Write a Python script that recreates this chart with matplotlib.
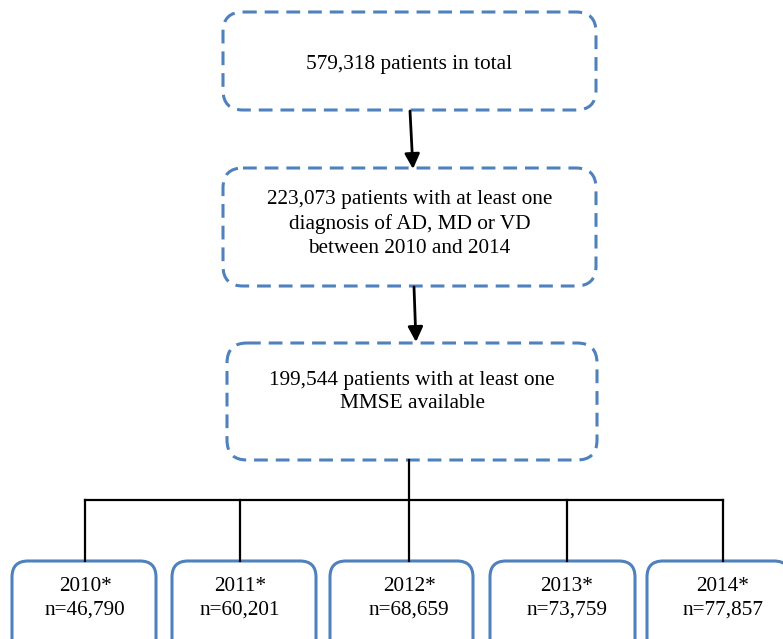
import matplotlib
matplotlib.use("Agg")
import matplotlib.pyplot as plt
from matplotlib.patches import FancyBboxPatch

# flowchart content
stage_texts = [
    "579,318 patients in total",
    "223,073 patients with at least one\ndiagnosis of AD, MD or VD\nbetween 2010 and 2014",
    "199,544 patients with at least one\nMMSE available",
]
years = ["2010", "2011", "2012", "2013", "2014"]
year_counts = ["46,790", "60,201", "68,659", "73,759", "77,857"]

BLUE = "#4f81bd"
W, H = 783, 639

fig = plt.figure(figsize=(W / 100, H / 100), dpi=100)
ax = fig.add_axes([0, 0, 1, 1])
ax.set_xlim(0, W)
ax.set_ylim(H, 0)
ax.axis("off")

plt.rcParams["font.family"] = ["Liberation Serif", "DejaVu Serif"]
fs = 15.3

# stage boxes (x0, y0, x1, y1) and text centre
stage_boxes = [(223, 12, 596, 110), (223, 168, 596, 286), (227, 343, 597, 460)]
text_y = [64, 224, 392]

for (x0, y0, x1, y1), txt, ty in zip(stage_boxes, stage_texts, text_y):
    box = FancyBboxPatch((x0, y0), x1 - x0, y1 - y0,
                         boxstyle="round,pad=0,rounding_size=20",
                         fc="white", ec=BLUE, lw=2.2,
                         linestyle=(0, (4.5, 2.6)))
    ax.add_patch(box)
    ax.text((x0 + x1) / 2, ty, txt, ha="center", va="center",
            fontsize=fs, linespacing=1.33)

# arrows between stages
arrows = [((410, 111), (413, 169)), ((414, 287), (416, 342))]
for (xa, ya), (xb, yb) in arrows:
    ax.annotate("", xy=(xb, yb), xytext=(xa, ya),
                arrowprops=dict(arrowstyle="-|>,head_length=0.9,head_width=0.45",
                                color="black", lw=2, shrinkA=0, shrinkB=0))

# tree connector
drops = [85, 240, 409, 567, 723]
ax.plot([409, 409], [460, 500], color="black", lw=1.6)
ax.plot([drops[0], drops[-1]], [500, 500], color="black", lw=1.6)
for x in drops:
    ax.plot([x, x], [500, 561], color="black", lw=1.6)

# year boxes
year_boxes = [(12, 156), (172, 316), (330, 473), (490, 635), (647, 790)]
for (x0, x1), yr, n, cx in zip(year_boxes, years, year_counts, drops):
    box = FancyBboxPatch((x0, 561), x1 - x0, 110,
                         boxstyle="round,pad=0,rounding_size=16",
                         fc="white", ec=BLUE, lw=2.2)
    ax.add_patch(box)
    ax.text(cx, 598, yr + "*\nn=" + n, ha="center", va="center",
            fontsize=fs, linespacing=1.33)

fig.savefig("out.png", dpi=100)
